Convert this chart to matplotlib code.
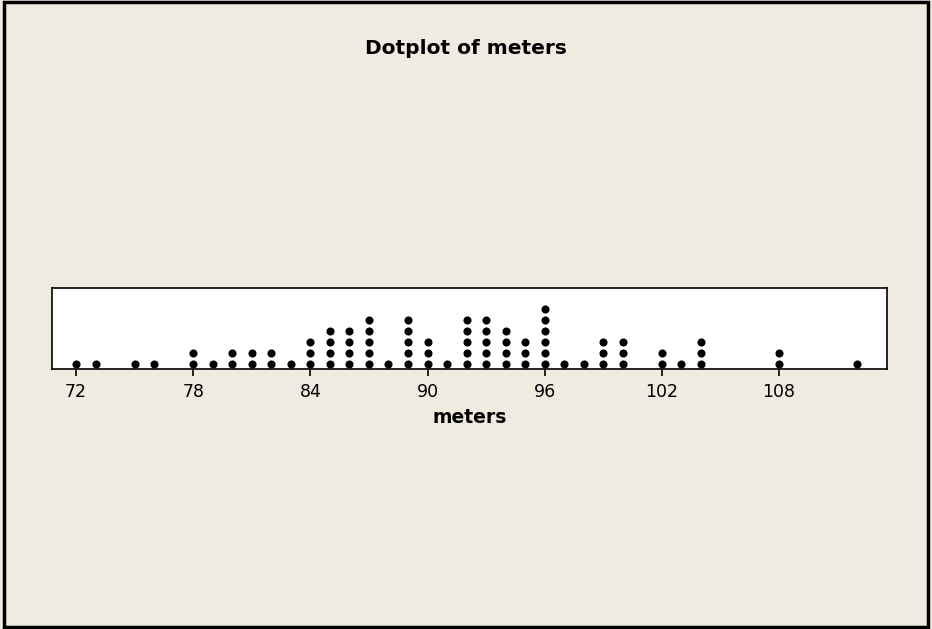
import matplotlib
matplotlib.use("Agg")
import matplotlib.pyplot as plt
from matplotlib.patches import Rectangle

# meters value -> number of observations
values = [72, 73, 75, 76, 78, 79, 80, 81, 82, 83, 84, 85, 86, 87, 88, 89, 90,
          91, 92, 93, 94, 95, 96, 97, 98, 99, 100, 102, 103, 104, 108, 112]
counts = [1, 1, 1, 1, 2, 1, 2, 2, 2, 1, 3, 4, 4, 5, 1, 5, 3,
          1, 5, 5, 4, 3, 6, 1, 1, 3, 3, 2, 1, 3, 2, 1]
tick_values = [72, 78, 84, 90, 96, 102, 108]
title = "Dotplot of meters"
xlabel = "meters"

bg = "#EFEBE1"
plt.rcParams["font.family"] = ["DejaVu Sans"]

fig = plt.figure(figsize=(9.32, 6.29), dpi=100, facecolor=bg)
# outer frame
fig.patches.append(Rectangle((0.004, 0.003), 0.992, 0.994, transform=fig.transFigure,
                             fill=False, edgecolor="black", linewidth=2.5))

ax = fig.add_axes([0.0558, 0.4129, 0.8959, 0.1292])
ax.set_facecolor("white")

xs, ys = [], []
for v, c in zip(values, counts):
    for k in range(c):
        xs.append(v)
        ys.append(k)
ax.scatter(xs, ys, s=34, color="black", zorder=3, linewidths=0)

ax.set_xlim(70.77, 113.53)
ax.set_ylim(-0.48, 6.88)
ax.set_yticks([])
ax.set_xticks(tick_values)
ax.set_xticklabels([str(t) for t in tick_values], fontsize=12.5)
ax.tick_params(axis="x", direction="out", length=5, width=1.2, pad=5)
for sp in ax.spines.values():
    sp.set_linewidth(1.2)
    sp.set_color("black")
ax.set_xlabel(xlabel, fontsize=13.5, fontweight="bold", labelpad=5)

fig.text(0.5, 1 - 48 / 629, title, ha="center", va="center",
         fontsize=14.5, fontweight="bold")

fig.savefig("out.png", dpi=100, facecolor=bg)
